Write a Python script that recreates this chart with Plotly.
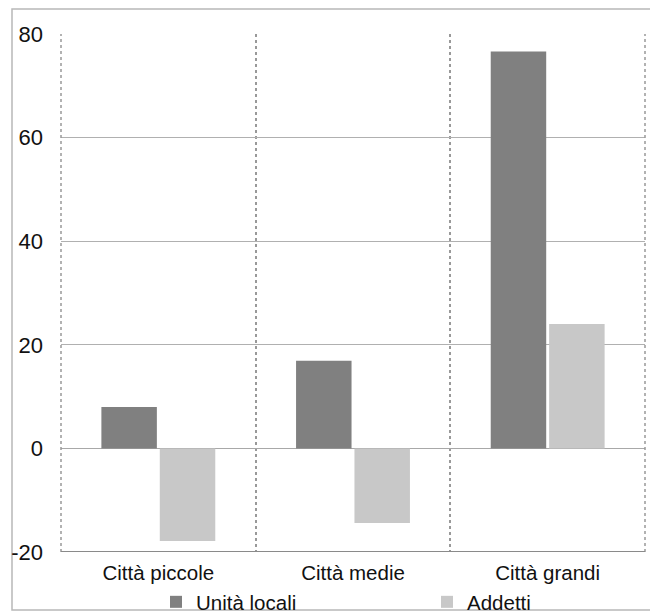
import plotly.graph_objects as go

categories = ["Città piccole", "Città medie", "Città grandi"]
unita_locali = [8.0, 16.9, 76.6]
addetti = [-17.9, -14.4, 24.0]
series_names = ["Unità locali", "Addetti"]
y_ticks = [-20, 0, 20, 40, 60, 80]
y_tick_labels = ["-20", "0", "20", "40", "60", "80"]

# page offset of the figure (default body margin)
OFF = 8
W, H = 658 - OFF, 613 - OFF
# plot area in reference page pixels
PL, PR, PT, PB = 61, 645, 34, 552
L, R, T, B = PL - OFF, W - (PR - OFF), PT - OFF, H - (PB - OFF)
pw, ph = W - L - R, H - T - B

def px_x(p):
    return (p - OFF - L) / pw

def px_y(p):
    return (H - B - (p - OFF)) / ph

font_family = "Liberation Sans, Arial, Helvetica, sans-serif"

fig = go.Figure()
fig.add_trace(go.Bar(x=categories, y=unita_locali, name=series_names[0],
                     legend="legend",
                     marker=dict(color="#808080", line=dict(width=0))))
fig.add_trace(go.Bar(x=categories, y=addetti, name=series_names[1],
                     legend="legend2",
                     marker=dict(color="#c8c8c8", line=dict(width=0))))

leg_common = dict(orientation="h", yanchor="middle", xanchor="left",
                  font=dict(size=20.5, color="#111"), bgcolor="rgba(0,0,0,0)",
                  itemclick=False, itemdoubleclick=False)

fig.update_layout(
    width=W, height=H,
    margin=dict(l=L, r=R, t=T, b=B, pad=0, autoexpand=False),
    paper_bgcolor="white", plot_bgcolor="white",
    barmode="group", bargap=0.4, bargroupgap=0.05,
    font=dict(family=font_family, size=20, color="#111"),
    showlegend=True,
    legend=dict(x=px_x(156), y=px_y(602), **leg_common),
    legend2=dict(x=px_x(427), y=px_y(602), **leg_common),
    xaxis=dict(type="category", tickson="boundaries", showgrid=True,
               gridcolor="#999", griddash="dot", gridwidth=1.5,
               showline=False, ticks="", tickfont=dict(size=20.5),
               ticklabelstandoff=6,
               range=[-0.5, 2.5], automargin=False),
    yaxis=dict(range=[-20, 80], tickvals=y_ticks, ticktext=y_tick_labels,
               showgrid=True,
               gridcolor="#b0b0b0", gridwidth=1.2,
               zeroline=True, zerolinecolor="#a8a8a8", zerolinewidth=1.2,
               showline=False, ticks="", ticklabelstandoff=17,
               tickfont=dict(size=22), automargin=False),
    shapes=[
        # outer frame
        dict(type="rect", xref="paper", yref="paper",
             x0=px_x(12), x1=px_x(670), y0=px_y(610), y1=px_y(9),
             line=dict(color="#b8b8b8", width=1.5), layer="below"),
        # dotted outer category boundaries
        dict(type="line", xref="paper", yref="y", x0=0, x1=0, y0=-20, y1=80,
             line=dict(color="#999", width=1.5, dash="dot")),
        dict(type="line", xref="paper", yref="y", x0=1, x1=1, y0=-20, y1=80,
             line=dict(color="#999", width=1.5, dash="dot")),
        # bottom axis line at -20
        dict(type="line", xref="paper", yref="y", x0=0, x1=1, y0=-20, y1=-20,
             line=dict(color="#8a8a8a", width=2)),
    ],
)

fig.write_html("out.html")
